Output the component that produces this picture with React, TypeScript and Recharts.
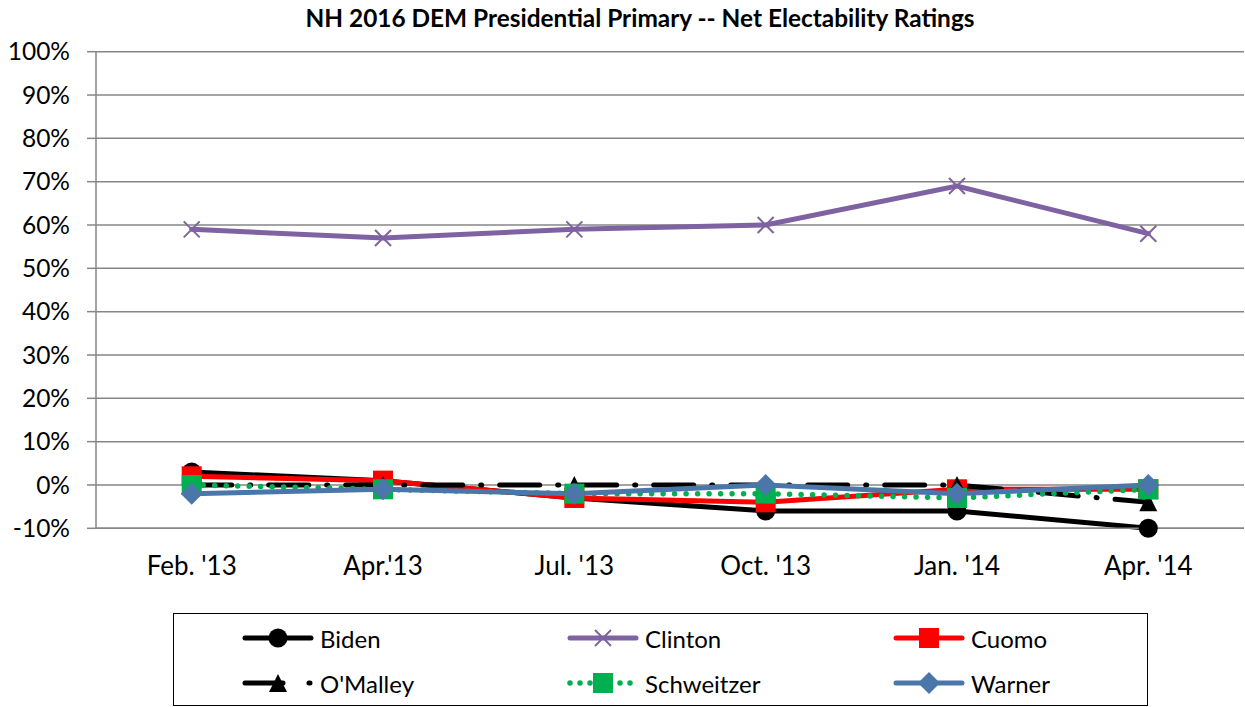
import React from 'react';
import { LineChart, Line, XAxis, YAxis, CartesianGrid } from 'recharts';

const categories = ["Feb. '13", "Apr.'13", "Jul. '13", "Oct. '13", "Jan. '14", "Apr. '14"];
const biden = [3, 1, -3, -6, -6, -10];
const clinton = [59, 57, 59, 60, 69, 58];
const cuomo = [2, 1, -3, -4, -1, -1];
const omalley = [0, 0, 0, 0, 0, -4];
const schweitzer = [0, -1, -2, -2, -3, -1];
const warner = [-2, -1, -2, 0, -2, 0];
const yTicks = [-10, 0, 10, 20, 30, 40, 50, 60, 70, 80, 90, 100];

const data = categories.map((c, i) => ({
  cat: c,
  Biden: biden[i],
  Clinton: clinton[i],
  Cuomo: cuomo[i],
  OMalley: omalley[i],
  Schweitzer: schweitzer[i],
  Warner: warner[i],
}));

const FONT = 'Lato, "Open Sans", sans-serif';
const BLACK = '#000000';
const PURPLE = '#7E62A1';
const RED = '#FF0000';
const GREEN = '#00B050';
const BLUE = '#4A76AA';
const GRID = '#868686';

type MK = 'circle' | 'cross' | 'square' | 'triangle' | 'diamond';

const markerShape = (kind: MK, cx: number, cy: number, color: string) => {
  switch (kind) {
    case 'circle':
      return <circle cx={cx} cy={cy} r={9.5} fill={color} />;
    case 'cross':
      return (
        <g stroke={color} strokeWidth={2}>
          <line x1={cx - 8} y1={cy - 8} x2={cx + 8} y2={cy + 8} />
          <line x1={cx - 8} y1={cy + 8} x2={cx + 8} y2={cy - 8} />
        </g>
      );
    case 'square':
      return <rect x={cx - 10} y={cy - 10} width={20} height={20} fill={color} />;
    case 'triangle':
      return <polygon points={`${cx},${cy - 9} ${cx + 9},${cy + 9} ${cx - 9},${cy + 9}`} fill={color} />;
    case 'diamond':
      return <polygon points={`${cx},${cy - 11} ${cx + 11},${cy} ${cx},${cy + 11} ${cx - 11},${cy}`} fill={color} />;
  }
};

const makeDot = (kind: MK, color: string) => (props: any) => {
  const { cx, cy, index } = props;
  if (cx == null || cy == null) return <g key={`d-${kind}-${index}`} />;
  return <g key={`d-${kind}-${index}`}>{markerShape(kind, cx, cy, color)}</g>;
};

const series = [
  { key: 'Biden', label: 'Biden', color: BLACK, kind: 'circle' as MK, dash: undefined as string | undefined, legendDash: undefined as string | undefined, width: 5 },
  { key: 'Clinton', label: 'Clinton', color: PURPLE, kind: 'cross' as MK, dash: undefined, legendDash: undefined, width: 5 },
  { key: 'Cuomo', label: 'Cuomo', color: RED, kind: 'square' as MK, dash: undefined, legendDash: undefined, width: 5 },
  { key: 'OMalley', label: "O'Malley", color: BLACK, kind: 'triangle' as MK, dash: '40 18 1 18', legendDash: '38 26 1 40', width: 5 },
  { key: 'Schweitzer', label: 'Schweitzer', color: GREEN, kind: 'square' as MK, dash: '0 11.5', legendDash: '0 10', width: 5.5 },
  { key: 'Warner', label: 'Warner', color: BLUE, kind: 'diamond' as MK, dash: undefined, legendDash: undefined, width: 5 },
];

const LegendIcon = ({ s }: { s: typeof series[number] }) => {
  const w = 72;
  const h = 24;
  return (
    <svg width={w} height={h} style={{ display: 'block' }}>
      <line
        x1={3}
        y1={h / 2}
        x2={w - 3}
        y2={h / 2}
        stroke={s.color}
        strokeWidth={s.width}
        strokeDasharray={s.legendDash}
        strokeLinecap="round"
      />
      {markerShape(s.kind, w / 2, h / 2, s.color)}
    </svg>
  );
};

const legendCols = [242, 567, 893];
const legendRows = [638, 683];

export default function App() {
  return (
    <div style={{ position: 'absolute', left: 0, top: 0, width: 1245, height: 707, background: '#fff', fontFamily: FONT }}>
      <div
        style={{
          position: 'absolute',
          left: 0,
          top: 3,
          width: 1280,
          textAlign: 'center',
          fontWeight: 700,
          fontSize: 24.4,
          color: '#000',
          fontFamily: FONT,
        }}
      >
        NH 2016 DEM Presidential Primary -- Net Electability Ratings
      </div>
      <LineChart
        width={1245}
        height={707}
        data={data}
        margin={{ top: 51.7, right: 1, bottom: 118.7, left: 0 }}
        style={{ position: 'absolute', left: 0, top: 0 }}
      >
        <CartesianGrid horizontal vertical={false} stroke={GRID} strokeWidth={1.5} />
        <XAxis
          dataKey="cat"
          height={60}
          padding={{ left: 95.7, right: 95.7 }}
          axisLine={{ stroke: GRID, strokeWidth: 1.5 }}
          tickLine={false}
          tickSize={0}
          tickMargin={28}
          interval={0}
          tick={{ fill: '#000', fontSize: 26, fontFamily: FONT }}
        />
        <YAxis
          domain={[-10, 100]}
          ticks={yTicks}
          interval={0}
          width={96}
          tickSize={9}
          tickMargin={17}
          axisLine={{ stroke: GRID, strokeWidth: 1.5 }}
          tickLine={{ stroke: GRID, strokeWidth: 1.5 }}
          tickFormatter={(v: number) => `${v}%`}
          tick={{ fill: '#000', fontSize: 24.5, fontFamily: FONT }}
        />
        {series.map((s) => (
          <Line
            key={s.key}
            type="linear"
            dataKey={s.key}
            stroke={s.color}
            strokeWidth={s.width}
            strokeDasharray={s.dash}
            strokeLinecap="round"
            dot={makeDot(s.kind, s.color)}
            activeDot={false}
            isAnimationActive={false}
          />
        ))}
      </LineChart>
      <div
        style={{
          position: 'absolute',
          left: 173,
          top: 613,
          width: 975,
          height: 93,
          border: '1.5px solid #000',
          boxSizing: 'border-box',
        }}
      />
      {series.map((s, i) => {
        const col = i % 3;
        const row = Math.floor(i / 3);
        return (
          <div
            key={s.key}
            style={{
              position: 'absolute',
              left: legendCols[col],
              top: legendRows[row] - 14,
              height: 28,
              display: 'flex',
              alignItems: 'center',
              fontSize: 24,
              fontFamily: FONT,
              color: '#000',
              whiteSpace: 'nowrap',
            }}
          >
            <LegendIcon s={s} />
            <span style={{ marginLeft: 6 }}>{s.label}</span>
          </div>
        );
      })}
    </div>
  );
}
